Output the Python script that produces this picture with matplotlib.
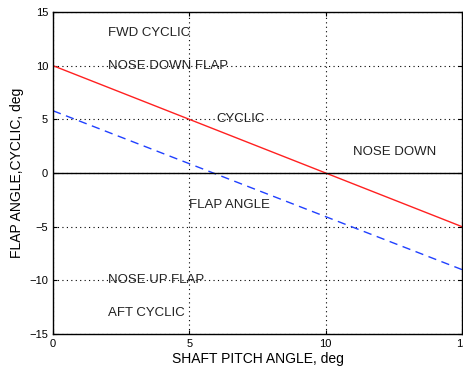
import matplotlib
matplotlib.use("Agg")
import matplotlib.pyplot as plt

# shaft pitch angle vs. cyclic and flap angle, deg
pitch = [0, 15]
cyclic = [10, -5]
flap = [5.8, -9.0]

xticks = [0, 5, 10, 15]
yticks = [-15, -10, -5, 0, 5, 10, 15]

notes = [
    ("FWD CYCLIC", 2, 13),
    ("NOSE DOWN FLAP", 2, 10),
    ("CYCLIC", 6, 5),
    ("NOSE DOWN", 11, 2),
    ("FLAP ANGLE", 5, -3),
    ("NOSE UP FLAP", 2, -10),
    ("AFT CYCLIC", 2, -13),
]

plt.rcParams["font.family"] = ["Liberation Sans", "DejaVu Sans"]
fig = plt.figure(figsize=(4.63, 3.66), dpi=100)
ax = fig.add_axes([53/463, 1-334/366, 409/463, 322/366])

ax.plot(pitch, cyclic, color="#ff2020", lw=1.0)
ax.plot(pitch, flap, color="#2040ff", lw=1.0, ls=(0, (6, 4)))
ax.axhline(0, color="black", lw=1.0)

for txt, x, y in notes:
    ax.text(x, y, txt, fontsize=9.5, va="center", ha="left", color="#222222")

ax.set_xlim(0, 15); ax.set_ylim(-15, 15)
ax.set_xticks(xticks); ax.set_yticks(yticks)
ax.tick_params(direction="in", top=True, right=True, labelsize=8, length=3)
ax.grid(True, ls=(0, (1, 3)), color="black", lw=0.8)
for s in ax.spines.values():
    s.set_linewidth(1.0)
ax.set_xlabel("SHAFT PITCH ANGLE, deg", fontsize=10, labelpad=2)
ax.set_ylabel("FLAP ANGLE,CYCLIC, deg", fontsize=10, labelpad=4)

fig.savefig("out.png", dpi=100)
